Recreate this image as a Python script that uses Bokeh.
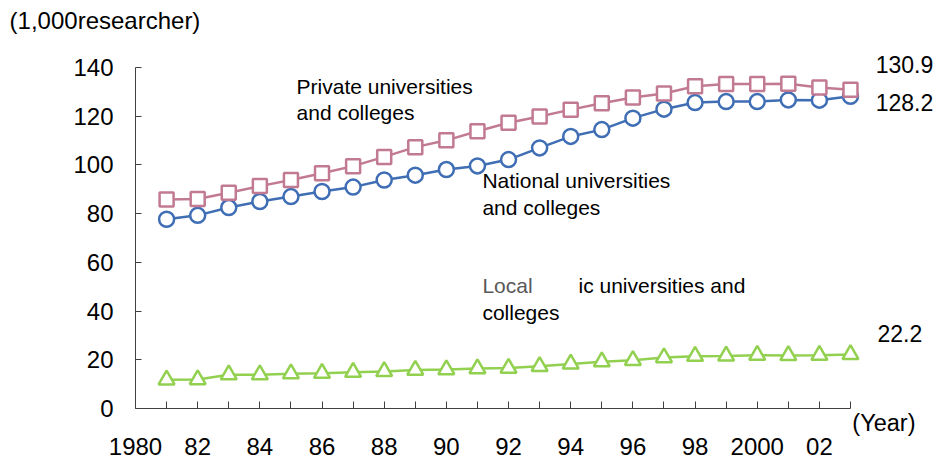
from bokeh.plotting import figure
from bokeh.models import FixedTicker, Label, Range1d
from bokeh.embed import file_html
from bokeh.resources import INLINE

# ---- data (thousand researchers) ----
years = list(range(1981, 2004))
national = [77.7, 79.3, 82.5, 85.0, 87.0, 89.1, 90.9, 93.8, 95.8, 98.1, 99.6, 102.2,
            107.0, 111.7, 114.5, 119.2, 122.9, 125.6, 126.0, 126.0, 126.7, 126.6, 128.2]
private = [85.8, 86.0, 88.6, 91.3, 93.8, 96.6, 99.5, 103.3, 107.3, 110.1, 113.8, 117.3,
           119.9, 122.7, 125.3, 127.7, 129.3, 132.3, 133.2, 133.2, 133.3, 131.8, 130.9]
local = [11.8, 11.9, 13.9, 13.9, 14.3, 14.5, 14.9, 15.2, 15.8, 16.0, 16.4, 16.6,
         17.3, 18.3, 19.2, 19.8, 20.9, 21.5, 21.6, 21.9, 21.8, 21.9, 22.2]

tick_years = list(range(1980, 2004))
tick_labels = ["1980", "", "82", "", "84", "", "86", "", "88", "", "90", "", "92", "",
               "94", "", "96", "", "98", "", "2000", "", "02", ""]
y_ticks = [0, 20, 40, 60, 80, 100, 120, 140]
x_axis_span = (1980, 2003)
y_axis_span = (0, 140)

FONT = "Liberation Sans"
BLUE = "#3F6EB5"
PINK = "#C27A93"
GREEN = "#92D050"

# frame covers the whole canvas; axes are fixed at x=1980 and y=0
p = figure(width=937, height=461, output_backend="svg", toolbar_location=None,
           x_range=Range1d(1975.657, 2005.799), y_range=Range1d(-21.76, 167.51),
           min_border=0, min_border_left=0, min_border_right=0,
           min_border_top=0, min_border_bottom=0)
p.title.visible = False
p.outline_line_color = None
p.xgrid.visible = False
p.ygrid.visible = False
p.background_fill_color = "white"
p.border_fill_color = "white"

# axes
xa = p.xaxis[0]
xa.fixed_location = 0
xa.bounds = x_axis_span
xa.ticker = FixedTicker(ticks=tick_years)
xa.major_label_overrides = {y: l for y, l in zip(tick_years, tick_labels)}
xa.major_tick_in = 7
xa.major_tick_out = 0
xa.minor_tick_in = 0
xa.minor_tick_out = 0
xa.major_label_standoff = 30
xa.major_label_text_font = FONT
xa.major_label_text_font_size = "24px"
xa.major_label_text_color = "black"
xa.axis_line_color = "#404040"
xa.major_tick_line_color = "#404040"

ya = p.yaxis[0]
ya.fixed_location = 1980
ya.bounds = y_axis_span
ya.ticker = FixedTicker(ticks=y_ticks)
ya.major_tick_in = 6
ya.major_tick_out = 0
ya.minor_tick_in = 0
ya.minor_tick_out = 0
ya.major_label_standoff = 22
ya.major_label_text_font = FONT
ya.major_label_text_font_size = "24px"
ya.major_label_text_color = "black"
ya.axis_line_color = "#404040"
ya.major_tick_line_color = "#404040"

# series
p.line(years, local, line_color=GREEN, line_width=2.5)
p.scatter(years, local, marker="triangle", size=16, line_color=GREEN, line_width=2.5,
          fill_color="white")

p.line(years, national, line_color=BLUE, line_width=2.5)
p.scatter(years, national, marker="circle", size=15, line_color=BLUE, line_width=2.5,
          fill_color="white")

p.line(years, private, line_color=PINK, line_width=2.5)
p.scatter(years, private, marker="square", size=14, line_color=PINK, line_width=2.5,
          fill_color="white")


def lab(x, y, text, size="21px", color="black"):
    p.add_layout(Label(x=x, y=y, text=text, text_font=FONT,
                       text_font_size=size, text_color=color,
                       text_baseline="alphabetic", text_align="left"))


# series annotations
lab(1985.18, 132.2, "Private universities")
lab(1985.18, 121.5, "and colleges")
lab(1991.16, 93.6, "National universities")
lab(1991.16, 82.5, "and colleges")
lab(1991.16, 50.5, "Local", color="#595959")
lab(1994.25, 50.5, "ic universities and")
lab(1991.16, 39.4, "colleges")

# end values
lab(2003.81, 141.2, f"{private[-1]:.1f}", size="23px")
lab(2003.81, 125.6, f"{national[-1]:.1f}", size="23px")
lab(2003.87, 30.8, f"{local[-1]:.1f}", size="23px")

# unit labels
lab(2003.06, -6.1, "(Year)", size="23.5px")
lab(1975.95, 159.3, "(1,000researcher)", size="24px")

open("out.html", "w").write(file_html(p, INLINE))
